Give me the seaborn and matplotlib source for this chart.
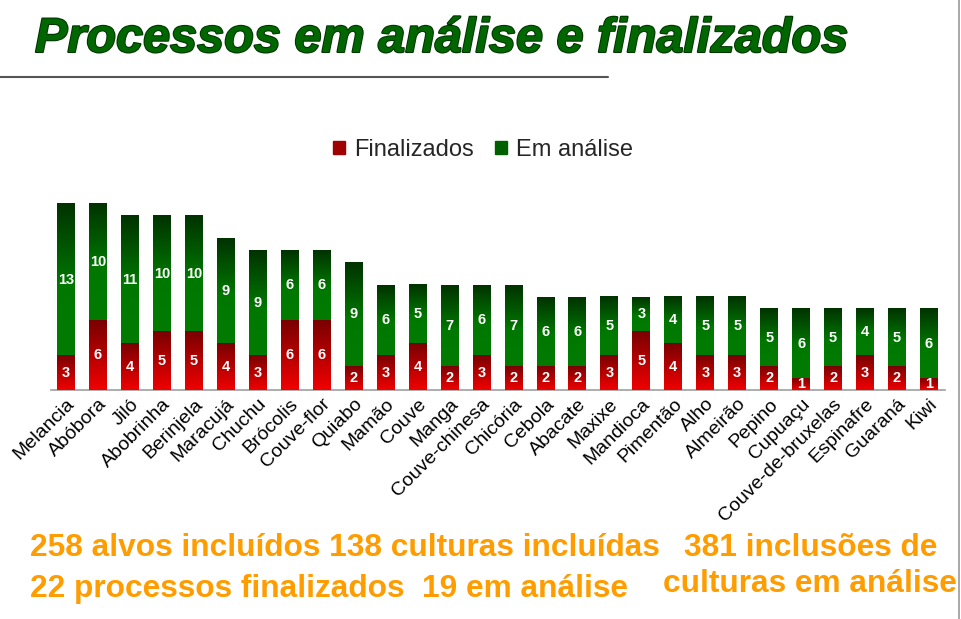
import matplotlib.pyplot as plt
import matplotlib.patheffects as pe
import numpy as np
import pandas as pd
import seaborn as sns
from matplotlib.colors import LinearSegmentedColormap
from matplotlib.patches import Patch

culturas = ["Melancia", "Abóbora", "Jiló", "Abobrinha", "Berinjela", "Maracujá", "Chuchu",
            "Brócolis", "Couve-flor", "Quiabo", "Mamão", "Couve", "Manga", "Couve-chinesa",
            "Chicória", "Cebola", "Abacate", "Maxixe", "Mandioca", "Pimentão", "Alho",
            "Almeirão", "Pepino", "Cupuaçu", "Couve-de-bruxelas", "Espinafre", "Guaraná", "Kiwi"]
finalizados = [3, 6, 4, 5, 5, 4, 3, 6, 6, 2, 3, 4, 2, 3, 2, 2, 2, 3, 5, 4, 3, 3, 2, 1, 2, 3, 2, 1]
em_analise = [13, 10, 11, 10, 10, 9, 9, 6, 6, 9, 6, 5, 7, 6, 7, 6, 6, 5, 3, 4, 5, 5, 5, 6, 5, 4, 5, 6]

df = pd.DataFrame({"cultura": culturas, "fin": finalizados, "ana": em_analise})
df["total"] = df["fin"] + df["ana"]

sns.set_theme(style="white")
plt.rcParams["font.family"] = ["Liberation Sans", "DejaVu Sans"]

fig = plt.figure(figsize=(9.61, 6.19), dpi=100)
ax = fig.add_axes([51 / 961, 1 - 390 / 619, (945 - 51) / 961, 17 * 11.625 / 619])

# barras empilhadas: total (verde) por baixo, finalizados (vermelho) por cima
sns.barplot(data=df, x="cultura", y="total", color="#007000", width=0.56, ax=ax)
sns.barplot(data=df, x="cultura", y="fin", color="#c00000", width=0.56, ax=ax)

# gradientes como no slide original (escuro no topo)
cm_verde = LinearSegmentedColormap.from_list("v", [(0, "#003300"), (0.55, "#007800"), (1, "#007c00")])
cm_verm = LinearSegmentedColormap.from_list("r", ["#7a0000", "#f00000"])
grad = np.linspace(0, 1, 100).reshape(-1, 1)
n = len(df)
for i, p in enumerate(ax.patches):
    x0, w = p.get_x(), p.get_width()
    if i < n:
        y0, y1, cm, z = df["fin"].iloc[i], df["total"].iloc[i], cm_verde, 2
    else:
        y0, y1, cm, z = 0, df["fin"].iloc[i - n], cm_verm, 3
    ax.imshow(grad, cmap=cm, extent=(x0, x0 + w, y0, y1), origin="upper", aspect="auto",
              zorder=z, interpolation="bilinear")
    p.set_visible(False)

for i, row in df.iterrows():
    ax.text(i, row["fin"] / 2, str(row["fin"]), ha="center", va="center", color="white",
            fontsize=10.5, fontweight="bold", zorder=5)
    ax.text(i, row["fin"] + row["ana"] / 2, str(row["ana"]), ha="center", va="center",
            color="white", fontsize=10.5, fontweight="bold", zorder=5)

ax.set_xlim(-0.47, n - 0.5)
ax.set_ylim(0, 17)
ax.set_xlabel("")
ax.set_ylabel("")
ax.set_yticks([])
ax.set_xticks(range(n), culturas)
ax.tick_params(axis="x", length=0, pad=4)
plt.setp(ax.get_xticklabels(), rotation=45, ha="right", rotation_mode="anchor",
         fontsize=14, color="black")
sns.despine(ax=ax, left=True, top=True, right=True)
ax.spines["bottom"].set_color("#a0a0a0")
ax.spines["bottom"].set_linewidth(1.2)
ax.set_facecolor("none")

ax.legend(handles=[Patch(color="#a00000", label="Finalizados"), Patch(color="#006000", label="Em análise")],
          loc="center", bbox_to_anchor=(483 / 961, 1 - 150 / 619), bbox_transform=fig.transFigure,
          ncol=2, frameon=False, fontsize=17, handlelength=0.5, handleheight=0.5,
          handletextpad=0.4, columnspacing=0.9)

# título e linhas decorativas
fig.text(35 / 961, 1 - 52 / 619, "Processos em análise e finalizados", fontsize=35,
         fontweight="bold", fontstyle="italic", color="#006600", va="baseline",
         path_effects=[pe.withStroke(linewidth=1.5, foreground="#003300")])
fig.add_artist(plt.Line2D([0, 608 / 961], [1 - 77 / 619] * 2, color="#555555", lw=1.5))
fig.add_artist(plt.Line2D([959 / 961] * 2, [0, 1], color="#999999", lw=1.2))

laranja = "#ff9c00"
fs = 22.8
fig.text(30 / 961, 1 - 556 / 619, "258 alvos incluídos 138 culturas incluídas", color=laranja,
         fontsize=fs, fontweight="bold", va="baseline")
fig.text(684 / 961, 1 - 556 / 619, "381 inclusões de", color=laranja,
         fontsize=fs, fontweight="bold", va="baseline")
fig.text(30 / 961, 1 - 597 / 619, "22 processos finalizados  19 em análise", color=laranja,
         fontsize=fs, fontweight="bold", va="baseline")
fig.text(663 / 961, 1 - 592 / 619, "culturas em análise", color=laranja,
         fontsize=fs, fontweight="bold", va="baseline")

fig.savefig("out.png", dpi=100)
